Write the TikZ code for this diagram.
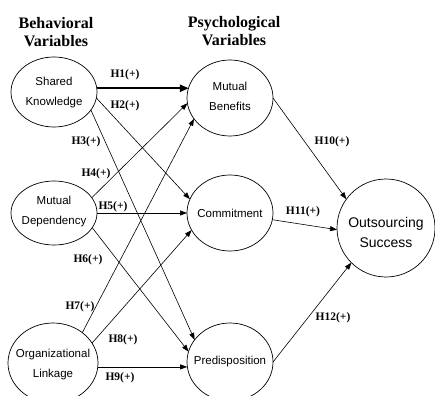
\documentclass[tikz,border=0pt]{standalone}
\usepackage{fontspec}
\setmainfont{Liberation Serif}
\setsansfont{Liberation Sans}
\usetikzlibrary{arrows.meta,shapes.geometric}
\begin{document}
\begin{tikzpicture}[x=1pt,y=-1pt,
  var/.style={draw, line width=0.7pt, ellipse, inner sep=0pt, outer sep=0pt},
  vtext/.style={font=\sffamily\fontsize{11.5}{20}\selectfont, align=center, inner sep=0pt},
  otext/.style={font=\sffamily\fontsize{14}{20}\selectfont, align=center, inner sep=0pt},
  hyp/.style={font=\bfseries\fontsize{11.5}{13}\selectfont, inner sep=0pt},
  head/.style={font=\bfseries\fontsize{16}{18}\selectfont, align=center, inner sep=0pt},
  link/.style={line width=0.6pt, -{Triangle[length=7pt,width=5pt]}},
  thicklink/.style={line width=2.2pt, -{Triangle[length=9pt,width=7pt]}},
]
\useasboundingbox (0,0) rectangle (435,395);

% headers
\node[head] (hb) at (56,32) {Behavioral\\Variables};
\node[head] (hp) at (234,31) {Psychological\\Variables};

% ellipses
\node[var, minimum width=86pt, minimum height=70pt] (sk) at (54,92) {};
\node[vtext] (skt) at (54,93) {Shared\\Knowledge};
\node[var, minimum width=86pt, minimum height=64pt] (md) at (54,213) {};
\node[vtext] (mdt) at (54,212) {Mutual\\Dependency};
\node[var, minimum width=90pt, minimum height=80pt] (ol) at (53,363) {};
\node[vtext] (olt) at (53,365) {Organizational\\Linkage};

\node[var, minimum width=86pt, minimum height=76pt] (mb) at (230,98) {};
\node[vtext] (mbt) at (230,96) {Mutual\\Benefits};
\node[var, minimum width=86pt, minimum height=76pt] (co) at (230,213) {};
\node[vtext] (cot) at (230,213) {Commitment};
\node[var, minimum width=86pt, minimum height=78pt] (pr) at (230,362) {};
\node[vtext] (prt) at (230,362) {Predisposition};

\node[draw, line width=0.7pt, circle, minimum size=98pt, inner sep=0pt, outer sep=0pt] (os) at (386,228) {};
\node[otext] (ost) at (386,232) {Outsourcing\\Success};

% connectors
\draw[thicklink] (sk.5) -- (sk.5 -| mb.165);
\draw[link] (sk.-8) -- (co.161.6);
\draw[link] (sk.-26) -- (pr.148);
\draw[link] (md.22) -- (mb.187);
\draw[link] (md.0) -- (md.0 -| co.180);
\draw[link] (md.-21) -- (pr.166);
\draw[link] (ol.46) -- (mb.210);
\draw[link] (ol.27) -- (co.204);
\draw[link] (ol.-5) -- (ol.-5 -| pr.175);
\draw[link] (mb.0) -- (os.144);
\draw[link] (co.-9) -- (os.182);
\draw[link] (pr.0) -- (os.225);

% hypothesis labels
\node[hyp] (h1) at (125,75) {H1(+)};
\node[hyp] (h2) at (125,106) {H2(+)};
\node[hyp] (h3) at (86,142) {H3(+)};
\node[hyp] (h4) at (96,174) {H4(+)};
\node[hyp] (h5) at (113,207) {H5(+)};
\node[hyp] (h6) at (88,260) {H6(+)};
\node[hyp] (h7) at (80,307) {H7(+)};
\node[hyp] (h8) at (123,340) {H8(+)};
\node[hyp] (h9) at (120,378) {H9(+)};
\node[hyp] (h10) at (332,142) {H10(+)};
\node[hyp] (h11) at (303,212) {H11(+)};
\node[hyp] (h12) at (333,318) {H12(+)};
\end{tikzpicture}
\end{document}
